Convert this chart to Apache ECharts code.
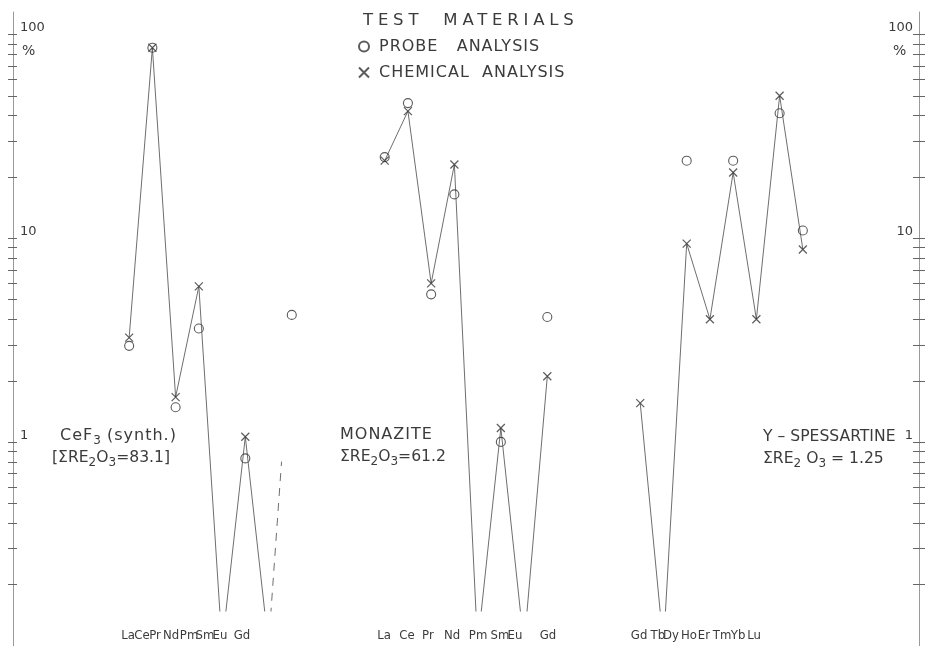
<!DOCTYPE html>
<html>
<head>
<meta charset="utf-8">
<title>Test materials – rare earth contents</title>
<script src="https://cdn.jsdelivr.net/npm/echarts@6/dist/echarts.min.js"></script>
<style>
  html, body { margin: 0; padding: 0; background: #fff; }
  #chart { width: 926px; height: 646px; }
</style>
</head>
<body>
<div id="chart"></div>
<script>
// ---- element names of the three test materials ----
const ceF3Elements = ['La', 'Ce', 'Pr', 'Nd', 'Pm', 'Sm', 'Eu', 'Gd'];
const monaziteElements = ['La', 'Ce', 'Pr', 'Nd', 'Pm', 'Sm', 'Eu', 'Gd'];
const spessartineElements = ['Gd', 'Tb', 'Dy', 'Ho', 'Er', 'Tm', 'Yb', 'Lu'];

// ---- oxide contents in % (null: not determined; 0.1: below the scale, drawn to its floor) ----
const ceF3Probe = [2.96, 86, 1.48, 3.6, null, 0.83, null, 4.2];
const ceF3Chemical = [3.25, 86, 1.66, 5.8, 0.1, 1.06, 0.1, null];
const monaziteProbe = [25, 46, 5.3, 16.4, null, 1.0, null, 4.1];
const monaziteChemical = [24, 42, 6.0, 23, 0.1, 1.17, 0.1, 2.1];
const spessartineProbe = [null, null, 24, null, 24, null, 41, 10.9];
const spessartineChemical = [1.55, 0.1, 9.4, 4.0, 21, 4.0, 50, 8.8];

// dashed Gd estimate for CeF3: from the Eu floor rising toward the Gd probe value
const ceF3GdTrend = [[6, 0.1], [6.56, 0.8]];

// ---- scale ticks ----
const tickMantissas = [1, 2, 3, 4, 5, 6, 7, 8, 9];
const tickDecades = [0.1, 1, 10, 100];
const labelledValues = [1, 10, 100];

// ---- layout ----
const FLOOR = 0.1;
const panelStart = [0, 11, 22];           // x slot of each panel's first element
const labelOffsets = [                    // element name centres, in slots from panel start
  [-0.05, 0.55, 1.11, 1.80, 2.58, 3.26, 3.91, 4.86],
  [-0.03, 0.96, 1.86, 2.90, 4.02, 4.96, 5.61, 7.03],
  [-0.05, 0.76, 1.32, 2.10, 2.74, 3.52, 4.21, 4.90]
];
const X_MIN = -5, X_MAX = 34;
const LOG_MIN = -1, LOG_MAX = 2.11, CLIP_MIN = -0.83;

const FONT = "'DejaVu Sans', 'Noto Sans', sans-serif";
const NARROW = "'Liberation Sans Narrow', 'DejaVu Sans Condensed', 'Liberation Sans', sans-serif";
const INK = '#3b3b3b';
const LINE = '#5e5e5e';

// Stencil lettering is widely tracked: extra letter spacing for the heading (16.5px)
// and the legend / sample names (16px); other sizes keep normal spacing.
const TRACKING = { '16.5px': 4.8, '16px': 1 };
(function () {
  const proto = window.CanvasRenderingContext2D && CanvasRenderingContext2D.prototype;
  if (!proto || !('letterSpacing' in proto)) return;
  ['fillText', 'strokeText', 'measureText'].forEach(function (fn) {
    const base = proto[fn];
    proto[fn] = function () {
      const m = /(\d+(?:\.\d+)?)px/.exec(this.font);
      const t = m ? TRACKING[m[1] + 'px'] : 0;
      this.letterSpacing = (t || 0) + 'px';
      return base.apply(this, arguments);
    };
  });
})();

const panels = [
  { names: ceF3Elements, probe: ceF3Probe, chem: ceF3Chemical },
  { names: monaziteElements, probe: monaziteProbe, chem: monaziteChemical },
  { names: spessartineElements, probe: spessartineProbe, chem: spessartineChemical }
];

const log10 = v => Math.log10(v);
function withSlots(values, start) {
  return values.map((v, i) => [start + i, v]).filter(p => p[1] != null);
}
function markers(values, start) {
  return withSlots(values, start).filter(p => p[1] > FLOOR).map(p => [p[0], log10(p[1])]);
}
function trace(values, start) {
  return withSlots(values, start).map(p => [p[0], log10(p[1])]);
}

const probePoints = [], chemPoints = [], traces = [];
// blank bookends at the axis ends keep every element name clear of the min/max label rules
const labelSlots = [X_MIN], labelName = new Map();
panels.forEach((p, k) => {
  const s = panelStart[k];
  probePoints.push(...markers(p.probe, s));
  chemPoints.push(...markers(p.chem, s));
  traces.push(trace(p.chem, s));
  p.names.forEach((n, i) => {
    const pos = s + labelOffsets[k][i];
    labelSlots.push(pos);
    labelName.set(pos, n);
  });
});
labelSlots.push(X_MAX);

const tickValues = [];
tickDecades.forEach(d => tickMantissas.forEach(m => {
  const v = d * m;
  if (v > FLOOR && v <= 100) tickValues.push(log10(v));
}));
const labelValues = labelledValues.map(log10);
const fmtLevel = v => String(Math.round(Math.pow(10, v)));

function scaleAxis(position, inside, len, withLine, withLabel, margin) {
  return {
    type: 'value', gridIndex: 0, position: position, min: LOG_MIN, max: LOG_MAX,
    splitLine: { show: false },
    axisLine: { show: withLine, onZero: false, lineStyle: { color: '#9a9a9a', width: 1 } },
    axisTick: { show: true, inside: inside, length: len, customValues: tickValues,
                lineStyle: { color: '#666', width: 1 } },
    axisLabel: withLabel ? {
      show: true, inside: true, margin: margin, customValues: labelValues,
      formatter: fmtLevel, verticalAlign: 'bottom',
      fontFamily: FONT, fontSize: 13, color: INK
    } : { show: false }
  };
}

const chart = echarts.init(document.getElementById('chart'), null, { renderer: 'canvas' });

const richTracked = { fontFamily: FONT, fontSize: 16, lineHeight: 22, fill: INK };
const richPlain = { fontFamily: FONT, fontSize: 15.6, lineHeight: 22, fill: INK };
const richSub = { fontFamily: FONT, fontSize: 12, lineHeight: 10, verticalAlign: 'bottom', fill: INK };
function note(x, y, text) {
  return { type: 'text', x: x, y: y, silent: true,
           style: { text: text, align: 'left', verticalAlign: 'top',
                    rich: { n: richTracked, p: richPlain, s: richSub } } };
}

chart.setOption({
  animation: false,
  backgroundColor: '#fff',
  grid: [
    { left: 13, right: 7, top: 12, bottom: 0 },   // frame carrying both % scales
    { left: 13, right: 7, top: 12, bottom: 35 }   // plotted analyses, clipped above the element names
  ],
  xAxis: [
    {
      type: 'value', gridIndex: 0, min: X_MIN, max: X_MAX,
      axisLine: { show: false, onZero: false }, axisTick: { show: false }, splitLine: { show: false },
      axisLabel: {
        inside: true, margin: 4, customValues: labelSlots, hideOverlap: false,
        formatter: v => labelName.get(v) || '',
        fontFamily: NARROW, fontSize: 13, color: INK
      }
    },
    { type: 'value', gridIndex: 1, min: X_MIN, max: X_MAX, show: false, splitLine: { show: false } }
  ],
  yAxis: [
    scaleAxis('left', true, 4, true, true, 7),
    scaleAxis('left', false, 5, false, false),
    scaleAxis('right', true, 6, true, true, 6),
    scaleAxis('right', false, 6, false, false),
    { type: 'value', gridIndex: 1, min: CLIP_MIN, max: LOG_MAX, show: false, splitLine: { show: false } }
  ],
  legend: {
    data: ['PROBE   ANALYSIS', 'CHEMICAL  ANALYSIS'],
    orient: 'vertical', left: 358, top: 38, padding: 0,
    itemWidth: 20, itemHeight: 10, itemGap: 9, selectedMode: false,
    textStyle: { fontFamily: FONT, fontSize: 16, color: INK }
  },
  graphic: [
    { type: 'text', x: 363, y: 21, silent: true,
      style: { text: 'TEST  MATERIALS', fontFamily: FONT, fontSize: 16.5, fill: INK,
               align: 'left', verticalAlign: 'middle' } },
    { type: 'text', x: 22, y: 44, silent: true,
      style: { text: '%', fontFamily: FONT, fontSize: 14, fill: INK, verticalAlign: 'top' } },
    { type: 'text', x: 893, y: 44, silent: true,
      style: { text: '%', fontFamily: FONT, fontSize: 14, fill: INK, verticalAlign: 'top' } },
    note(60, 425, '{n|CeF}{s|3}{n| (synth.)}'),
    note(52, 447, '{p|[ΣRE}{s|2}{p|O}{s|3}{p|=83.1]}'),
    note(340, 424, '{n|MONAZITE}'),
    note(340, 446, '{p|ΣRE}{s|2}{p|O}{s|3}{p|=61.2}'),
    note(763, 426, '{p|Y – SPESSARTINE}'),
    note(763, 448, '{p|ΣRE}{s|2}{p| O}{s|3}{p| = 1.25}')
  ],
  series: [
    ...traces.map(d => ({
      type: 'line', xAxisIndex: 1, yAxisIndex: 4, data: d, symbol: 'none', silent: true, z: 2,
      lineStyle: { color: LINE, width: 0.9 }
    })),
    {
      type: 'line', xAxisIndex: 1, yAxisIndex: 4, symbol: 'none', silent: true, z: 2,
      data: ceF3GdTrend.map(p => [p[0], log10(p[1])]),
      lineStyle: { color: LINE, width: 0.9, type: [8, 7] }
    },
    {
      name: 'PROBE   ANALYSIS', type: 'scatter', xAxisIndex: 1, yAxisIndex: 4, z: 3, silent: true,
      symbol: 'circle', symbolSize: 9, data: probePoints,
      itemStyle: { color: 'rgba(255,255,255,0)', borderColor: '#333', borderWidth: 1.1 }
    },
    {
      name: 'CHEMICAL  ANALYSIS', type: 'scatter', xAxisIndex: 1, yAxisIndex: 4, z: 4, silent: true,
      symbol: 'path://M0,0L10,10M10,0L0,10', symbolSize: 8, data: chemPoints,
      itemStyle: { color: 'rgba(0,0,0,0)', borderColor: '#333', borderWidth: 1.2 }
    }
  ]
});
</script>
</body>
</html>
